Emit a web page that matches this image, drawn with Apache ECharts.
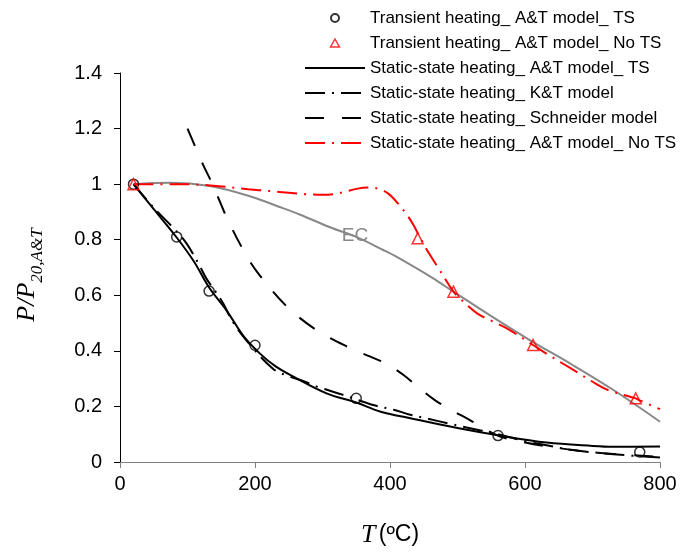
<!DOCTYPE html>
<html>
<head>
<meta charset="utf-8">
<script src="https://cdn.jsdelivr.net/npm/echarts/dist/echarts.min.js"></script>
<style>
  html, body { margin: 0; padding: 0; background: #fff; }
  #chart { width: 691px; height: 554px; }
</style>
</head>
<body>
<div id="chart"></div>
<script>
// axis ticks
const xTicks = [0, 200, 400, 600, 800];
const yTicks = [0, 0.2, 0.4, 0.6, 0.8, 1, 1.2, 1.4];

// transient heating points (markers)
const tempTS = [20, 84, 132, 200, 350, 560, 770];
const ratioTS = [1.0, 0.81, 0.615, 0.42, 0.229, 0.095, 0.036];
const tempNoTS = [20, 441, 494, 612, 764];
const ratioNoTS = [1.0, 0.805, 0.613, 0.421, 0.229];

// static-state heating, A&T model, TS (solid)
const tempAT = [20, 50, 84, 110, 132, 158, 183, 207, 230, 257, 306, 351, 385, 435, 500, 560, 632, 700, 731, 800];
const ratioAT = [1.0, 0.91, 0.808, 0.72, 0.628, 0.545, 0.453, 0.391, 0.345, 0.307, 0.247, 0.213, 0.182, 0.155, 0.122, 0.096, 0.07, 0.058, 0.055, 0.056];

// static-state heating, K&T model (dash-dot)
const tempKT = [20, 50, 84, 99, 116, 128, 141, 153, 167, 190, 227, 252, 271, 291, 326, 343, 375, 407, 430, 454, 486, 508, 560, 602, 630, 671, 731, 800];
const ratioKT = [1.0, 0.915, 0.83, 0.785, 0.715, 0.66, 0.615, 0.57, 0.505, 0.43, 0.335, 0.307, 0.292, 0.272, 0.245, 0.231, 0.205, 0.187, 0.17, 0.157, 0.139, 0.127, 0.1, 0.074, 0.061, 0.043, 0.028, 0.016];

// static-state heating, Schneider model (dashed)
const tempSch = [100, 123, 137, 160, 188, 207, 247, 291, 341, 370, 395, 420, 444, 467, 491, 519, 543, 563, 600, 650, 700, 800];
const ratioSch = [1.2, 1.07, 1.0, 0.87, 0.74, 0.672, 0.56, 0.475, 0.41, 0.38, 0.353, 0.313, 0.265, 0.222, 0.187, 0.15, 0.115, 0.092, 0.07, 0.05, 0.035, 0.018];

// static-state heating, A&T model, No TS (red dash-dot)
const tempNo = [20, 80, 130, 190, 222, 250, 274, 300, 316, 331, 350, 368, 385, 398, 412, 425, 435, 444, 458, 472, 494, 506, 529, 553, 575, 612, 627, 676, 704, 723, 764, 770, 800];
const ratioNo = [1.0, 1.0, 0.996, 0.982, 0.975, 0.969, 0.964, 0.962, 0.964, 0.971, 0.983, 0.988, 0.982, 0.965, 0.93, 0.89, 0.852, 0.81, 0.75, 0.697, 0.613, 0.583, 0.535, 0.505, 0.478, 0.421, 0.397, 0.325, 0.283, 0.259, 0.229, 0.222, 0.19];

// Eurocode curve (grey)
const tempEC = [20, 74, 133, 190, 242, 267, 311, 350, 390, 410, 464, 494, 550, 607, 670, 731, 800];
const ratioEC = [1.0, 1.005, 0.993, 0.958, 0.913, 0.89, 0.845, 0.81, 0.763, 0.738, 0.661, 0.613, 0.525, 0.439, 0.35, 0.259, 0.145];

const names = [
  "Transient heating_ A&T model_ TS",
  "Transient heating_ A&T model_ No TS",
  "Static-state heating_ A&T model_ TS",
  "Static-state heating_ K&T model",
  "Static-state heating_ Schneider model",
  "Static-state heating_ A&T model_ No TS",
];

const pairs = (xs, ys) => xs.map((x, i) => [x, ys[i]]);

const SANS = "'Liberation Sans', Arial, sans-serif";
const SERIF = "'Liberation Serif', 'Times New Roman', serif";
const CLEAR = "rgba(0,0,0,0)";

const chart = echarts.init(document.getElementById("chart"));

function lineSeries(name, xs, ys, color, type) {
  return {
    name: name,
    type: "line",
    data: pairs(xs, ys),
    symbol: "none",
    showSymbol: false,
    smooth: 0.35,
    lineStyle: { color: color, width: 2, type: type, cap: "butt" },
    itemStyle: { color: CLEAR, borderWidth: 0 },
    z: 2,
  };
}

// legend: hide the centre dot that line series put in their icon
const legendData = names.map((n, i) => {
  if (i === 0) return { name: n };
  if (i === 1) {
    return {
      name: n,
      icon: "path://M5,0L10,9L0,9Z",
      itemStyle: { color: CLEAR, borderColor: "#ff0000", borderWidth: 1.5 },
    };
  }
  return { name: n, itemStyle: { color: CLEAR, borderWidth: 0, opacity: 0 } };
});

chart.setOption({
  animation: false,
  backgroundColor: "#fff",
  grid: { left: 120, right: 31, top: 73, bottom: 92, containLabel: false },
  legend: {
    data: legendData,
    orient: "vertical",
    left: 299,
    top: 4,
    itemWidth: 60,
    itemHeight: 8,
    itemGap: 7,
    symbolKeepAspect: true,
    selectedMode: false,
    textStyle: { fontFamily: SANS, fontSize: 17, color: "#000", lineHeight: 18 },
  },
  xAxis: {
    type: "value",
    min: 0,
    max: 800,
    interval: 200,
    name: "{t|T} {u|(ºC)}",
    nameLocation: "middle",
    nameGap: 60,
    nameTextStyle: {
      rich: {
        t: { fontFamily: SERIF, fontStyle: "italic", fontSize: 26, color: "#000" },
        u: { fontFamily: SANS, fontSize: 23, color: "#000" },
      },
    },
    axisLine: { onZero: false, lineStyle: { color: "#808080", width: 1 } },
    axisTick: { show: true, length: 6, lineStyle: { color: "#808080" } },
    axisLabel: {
      fontFamily: SANS,
      fontSize: 20,
      color: "#000",
      margin: 12,
      formatter: (v) => (xTicks.includes(v) ? String(v) : ""),
    },
    splitLine: { show: false },
  },
  yAxis: {
    type: "value",
    min: 0,
    max: 1.4,
    interval: 0.2,
    axisLine: { show: true, onZero: false, lineStyle: { color: "#000", width: 1 } },
    axisTick: { show: true, length: 6, lineStyle: { color: "#000" } },
    axisLabel: {
      fontFamily: SANS,
      fontSize: 20,
      color: "#000",
      margin: 18,
      formatter: (v) => {
        const t = yTicks.find((k) => Math.abs(k - v) < 1e-6);
        return t === undefined ? "" : String(t);
      },
    },
    splitLine: { show: false },
  },
  graphic: [
    {
      type: "text",
      x: 30,
      y: 275,
      rotation: Math.PI / 2,
      style: {
        text: "{a|P/P}{b|20,A&T}",
        align: "center",
        verticalAlign: "middle",
        rich: {
          a: { fontFamily: SERIF, fontStyle: "italic", fontSize: 26, fill: "#000", verticalAlign: "bottom", padding: [0, 0, 6, 0] },
          b: { fontFamily: SERIF, fontStyle: "italic", fontSize: 17, fill: "#000", verticalAlign: "bottom" },
        },
      },
    },
  ],
  series: [
    {
      name: "EC",
      type: "line",
      data: pairs(tempEC, ratioEC),
      symbol: "none",
      showSymbol: false,
      smooth: 0.35,
      lineStyle: { color: "#888888", width: 2 },
      z: 1,
      markPoint: {
        symbol: "circle",
        symbolSize: 0,
        silent: true,
        label: { show: true, position: "inside", formatter: "EC", color: "#888888", fontFamily: SANS, fontSize: 19 },
        data: [{ coord: [348, 0.815] }],
      },
    },
    lineSeries(names[2], tempAT, ratioAT, "#000", "solid"),
    lineSeries(names[3], tempKT, ratioKT, "#000", [20, 7, 2, 7]),
    lineSeries(names[4], tempSch, ratioSch, "#000", [19, 18]),
    lineSeries(names[5], tempNo, ratioNo, "#ff0000", [20, 7, 2, 7]),
    {
      name: names[0],
      type: "scatter",
      data: pairs(tempTS, ratioTS),
      symbol: "circle",
      symbolSize: 10,
      itemStyle: { color: CLEAR, borderColor: "#000", borderWidth: 1.5 },
      z: 5,
    },
    {
      name: names[1],
      type: "scatter",
      data: pairs(tempNoTS, ratioNoTS),
      symbol: "triangle",
      symbolSize: 11,
      itemStyle: { color: CLEAR, borderColor: "#ff0000", borderWidth: 1.5 },
      z: 5,
    },
  ],
});
</script>
</body>
</html>
